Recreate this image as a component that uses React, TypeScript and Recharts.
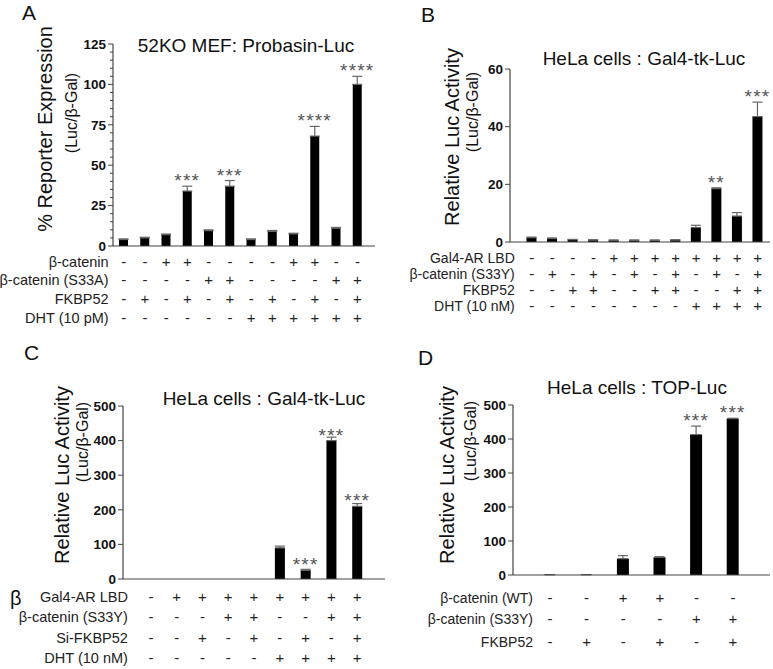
import React from 'react';
import { BarChart, Bar, XAxis, YAxis, ErrorBar, LabelList } from 'recharts';

const FONT = '"Liberation Sans", Arial, Helvetica, sans-serif';

// ---------- Panel A ----------
const aCategories = ['1', '2', '3', '4', '5', '6', '7', '8', '9', '10', '11', '12'];
const aValues = [4, 5, 7, 34, 9.5, 37, 4, 9, 7.5, 68, 11, 100];
const aErrors = [0.4, 0.4, 0.4, 3, 0.5, 3.5, 0.4, 0.6, 0.4, 6, 0.5, 5];
const aSig = ['', '', '', '***', '', '***', '', '', '', '****', '', '****'];
const aRowLabels = ['β-catenin', 'β-catenin (S33A)', 'FKBP52', 'DHT (10 pM)'];
const aRowSigns = [
  ['-', '-', '+', '+', '-', '-', '-', '-', '+', '+', '-', '-'],
  ['-', '-', '-', '-', '+', '+', '-', '-', '-', '-', '+', '+'],
  ['-', '+', '-', '+', '-', '+', '-', '+', '-', '+', '-', '+'],
  ['-', '-', '-', '-', '-', '-', '+', '+', '+', '+', '+', '+'],
];
const aTicks = [0, 5, 10, 15, 20, 25, 30, 35, 40, 45, 50, 55, 60, 65, 70, 75, 80, 85, 90, 95, 100, 105, 110, 115, 120, 125];
const aMajor = [0, 25, 50, 75, 100, 125];

// ---------- Panel B ----------
const bCategories = ['1', '2', '3', '4', '5', '6', '7', '8', '9', '10', '11', '12'];
const bValues = [1.5, 1.2, 0.8, 0.7, 0.6, 0.6, 0.6, 0.7, 5, 18.5, 9, 43.5];
const bErrors = [0.2, 0.2, 0.1, 0.1, 0.1, 0.1, 0.1, 0.1, 0.8, 0.3, 1.2, 5];
const bSig = ['', '', '', '', '', '', '', '', '', '**', '', '***'];
const bRowLabels = ['Gal4-AR LBD', 'β-catenin (S33Y)', 'FKBP52', 'DHT (10 nM)'];
const bRowSigns = [
  ['-', '-', '-', '-', '+', '+', '+', '+', '+', '+', '+', '+'],
  ['-', '+', '-', '+', '-', '+', '-', '+', '-', '+', '-', '+'],
  ['-', '-', '+', '+', '-', '-', '+', '+', '-', '-', '+', '+'],
  ['-', '-', '-', '-', '-', '-', '-', '-', '+', '+', '+', '+'],
];
const bTicks = [0, 20, 40, 60];

// ---------- Panel C ----------
const cCategories = ['1', '2', '3', '4', '5', '6', '7', '8', '9'];
const cValues = [0, 0, 0, 0, 0, 90, 25, 400, 210];
const cErrors = [0, 0, 0, 0, 0, 5, 3, 10, 8];
const cSig = ['', '', '', '', '', '', '***', '***', '***'];
const cRowLabels = ['Gal4-AR LBD', 'β-catenin (S33Y)', 'Si-FKBP52', 'DHT (10 nM)'];
const cRowSigns = [
  ['-', '+', '+', '+', '+', '+', '+', '+', '+'],
  ['-', '-', '-', '+', '+', '-', '-', '+', '+'],
  ['-', '-', '+', '-', '+', '-', '+', '-', '+'],
  ['-', '-', '-', '-', '-', '+', '+', '+', '+'],
];
const cTicks = [0, 100, 200, 300, 400, 500];

// ---------- Panel D ----------
const dCategories = ['1', '2', '3', '4', '5', '6'];
const dValues = [1, 1, 48, 52, 413, 460];
const dErrors = [0.3, 0.3, 9, 2, 25, 1];
const dSig = ['', '', '', '', '***', '***'];
const dRowLabels = ['β-catenin (WT)', 'β-catenin (S33Y)', 'FKBP52'];
const dRowSigns = [
  ['-', '-', '+', '+', '-', '-'],
  ['-', '-', '-', '-', '+', '+'],
  ['-', '+', '-', '+', '-', '+'],
];
const dTicks = [0, 100, 200, 300, 400, 500];

type Cfg = {
  left: number; top: number; width: number; height: number;
  plotLeft: number; plotRight: number; plotTop: number; plotBottom: number;
  padL: number; padR: number; barSize: number;
  categories: string[]; values: number[]; errors: number[]; sig: string[];
  rowLabels: string[]; rowSigns: string[][]; rowOffsets: number[]; labelGap: number;
  domain: [number, number]; ticks: number[]; major: number[];
  xAxisHeight: number; labelSize: number;
};

const AXIS = '#444';

function Panel({ cfg }: { cfg: Cfg }) {
  const data = cfg.categories.map((c, i) => ({
    cat: c,
    value: cfg.values[i],
    err: [0, cfg.errors[i]],
    sig: cfg.sig[i],
  }));

  const YTick = (props: any) => {
    const { y, payload } = props;
    const v = payload.value;
    const isMajor = cfg.major.includes(v);
    return (
      <g>
        <line x1={cfg.plotLeft - (isMajor ? 5 : 3)} x2={cfg.plotLeft} y1={y} y2={y} stroke={AXIS} strokeWidth={1} />
        {isMajor && (
          <text x={cfg.plotLeft - 7} y={y} dy="0.35em" textAnchor="end" fontFamily={FONT} fontWeight="bold" fontSize={13.5} fill="#111">
            {v}
          </text>
        )}
      </g>
    );
  };

  const XTick = (props: any) => {
    const { x, index } = props;
    return (
      <g>
        {cfg.rowSigns.map((row, ri) => (
          <text key={'s' + ri} x={x} y={cfg.plotBottom + cfg.rowOffsets[ri]} dy="0.35em" textAnchor="middle" fontFamily={FONT} fontSize={15} fill="#222">
            {row[index]}
          </text>
        ))}
        {index === 0 &&
          cfg.rowLabels.map((lab, ri) => (
            <text key={'l' + ri} x={x - cfg.labelGap} y={cfg.plotBottom + cfg.rowOffsets[ri]} dy="0.35em" textAnchor="end" fontFamily={FONT} fontSize={cfg.labelSize} fill="#222">
              {lab}
            </text>
          ))}
      </g>
    );
  };

  const renderSig = (props: any) => {
    const { x, y, width, height, value, index } = props;
    if (!value) return null;
    const v = cfg.values[index];
    const e = cfg.errors[index];
    const pxPerUnit = v > 0 ? Math.abs(height) / v : 0;
    const top = y - e * pxPerUnit;
    return (
      <text x={x + width / 2} y={top + 1} textAnchor="middle" fontFamily={FONT} fontSize={19} letterSpacing={1.2} fill="#555">
        {value}
      </text>
    );
  };

  return (
    <div style={{ position: 'absolute', left: cfg.left, top: cfg.top, width: cfg.width, height: cfg.height }}>
      <BarChart
        width={cfg.width}
        height={cfg.height}
        data={data}
        margin={{
          top: cfg.plotTop,
          right: cfg.width - cfg.plotRight,
          left: 0,
          bottom: cfg.height - cfg.plotBottom - cfg.xAxisHeight,
        }}
      >
        <XAxis
          dataKey="cat"
          height={cfg.xAxisHeight}
          padding={{ left: cfg.padL, right: cfg.padR }}
          tickLine={false}
          tickSize={0}
          tickMargin={0}
          interval={0}
          axisLine={{ stroke: AXIS, strokeWidth: 1.2 }}
          tick={XTick}
        />
        <YAxis
          width={cfg.plotLeft}
          domain={cfg.domain}
          ticks={cfg.ticks}
          interval={0}
          tickLine={false}
          axisLine={{ stroke: AXIS, strokeWidth: 1.2 }}
          tick={YTick}
          allowDataOverflow
        />
        <Bar dataKey="value" fill="#000" barSize={cfg.barSize} isAnimationActive={false}>
          <ErrorBar dataKey="err" width={5} stroke="#666" strokeWidth={1.2} direction="y" />
          <LabelList dataKey="sig" content={renderSig} />
        </Bar>
      </BarChart>
    </div>
  );
}

const panelA: Cfg = {
  left: 0, top: 0, width: 390, height: 330,
  plotLeft: 113, plotRight: 375, plotTop: 44, plotBottom: 246,
  padL: 0, padR: 7, barSize: 9,
  categories: aCategories, values: aValues, errors: aErrors, sig: aSig,
  rowLabels: aRowLabels, rowSigns: aRowSigns, rowOffsets: [15.5, 33.5, 52.5, 72], labelGap: 15,
  domain: [0, 125], ticks: aTicks, major: aMajor, xAxisHeight: 80, labelSize: 14.5,
};

const panelB: Cfg = {
  left: 390, top: 0, width: 383, height: 330,
  plotLeft: 120, plotRight: 380, plotTop: 69, plotBottom: 242,
  padL: 11.5, padR: 2, barSize: 10,
  categories: bCategories, values: bValues, errors: bErrors, sig: bSig,
  rowLabels: bRowLabels, rowSigns: bRowSigns, rowOffsets: [16, 32, 48, 64], labelGap: 17,
  domain: [0, 60], ticks: bTicks, major: bTicks, xAxisHeight: 80, labelSize: 14,
};

const panelC: Cfg = {
  left: 0, top: 330, width: 390, height: 339,
  plotLeft: 123, plotRight: 385, plotTop: 76, plotBottom: 249,
  padL: 15, padR: 15, barSize: 10,
  categories: cCategories, values: cValues, errors: cErrors, sig: cSig,
  rowLabels: cRowLabels, rowSigns: cRowSigns, rowOffsets: [18, 38, 58.5, 79], labelGap: 23,
  domain: [0, 500], ticks: cTicks, major: cTicks, xAxisHeight: 85, labelSize: 14.5,
};

const panelD: Cfg = {
  left: 390, top: 330, width: 383, height: 339,
  plotLeft: 123, plotRight: 380, plotTop: 75, plotBottom: 245,
  padL: 18.7, padR: 18.7, barSize: 12,
  categories: dCategories, values: dValues, errors: dErrors, sig: dSig,
  rowLabels: dRowLabels, rowSigns: dRowSigns, rowOffsets: [23, 44, 67], labelGap: 17,
  domain: [0, 500], ticks: dTicks, major: dTicks, xAxisHeight: 85, labelSize: 14,
};

function VLabel({ x, y, text, size }: { x: number; y: number; text: string; size: number }) {
  return (
    <text
      transform={`translate(${x},${y}) rotate(-90)`}
      textAnchor="middle"
      dominantBaseline="central"
      fontFamily={FONT}
      fontSize={size}
      fill="#111"
    >
      {text}
    </text>
  );
}

export default function App() {
  return (
    <div style={{ position: 'absolute', left: 0, top: 0, width: 773, height: 669, background: '#fff', overflow: 'hidden' }}>
      <Panel cfg={panelA} />
      <Panel cfg={panelB} />
      <Panel cfg={panelC} />
      <Panel cfg={panelD} />
      <svg width={773} height={669} style={{ position: 'absolute', left: 0, top: 0, pointerEvents: 'none' }}>
        {/* panel letters */}
        <text x={22} y={20} fontFamily={FONT} fontSize={21} fill="#111">A</text>
        <text x={421} y={22} fontFamily={FONT} fontSize={21} fill="#111">B</text>
        <text x={24} y={360} fontFamily={FONT} fontSize={21} fill="#111">C</text>
        <text x={418} y={365} fontFamily={FONT} fontSize={21} fill="#111">D</text>
        {/* titles */}
        <text x={246} y={52} textAnchor="middle" fontFamily={FONT} fontSize={19} fill="#111">52KO MEF: Probasin-Luc</text>
        <text x={644} y={65} textAnchor="middle" fontFamily={FONT} fontSize={19} fill="#111">HeLa cells : Gal4-tk-Luc</text>
        <text x={264} y={405} textAnchor="middle" fontFamily={FONT} fontSize={19} fill="#111">HeLa cells : Gal4-tk-Luc</text>
        <text x={637} y={394} textAnchor="middle" fontFamily={FONT} fontSize={19} fill="#111">HeLa cells : TOP-Luc</text>
        {/* y labels */}
        <VLabel x={45} y={129} text="% Reporter Expression" size={20} />
        <VLabel x={71} y={113} text="(Luc/β-Gal)" size={16} />
        <VLabel x={452} y={137} text="Relative Luc Activity" size={20} />
        <VLabel x={472} y={112} text="(Luc/β-Gal)" size={16} />
        <VLabel x={62} y={475} text="Relative Luc Activity" size={20} />
        <VLabel x={82} y={442} text="(Luc/β-Gal)" size={16} />
        <VLabel x={447} y={475} text="Relative Luc Activity" size={20} />
        <VLabel x={470} y={441} text="(Luc/β-Gal)" size={16} />
        {/* stray glyph */}
        <text x={10} y={605} fontFamily={FONT} fontSize={20} fill="#111">β</text>
      </svg>
    </div>
  );
}
